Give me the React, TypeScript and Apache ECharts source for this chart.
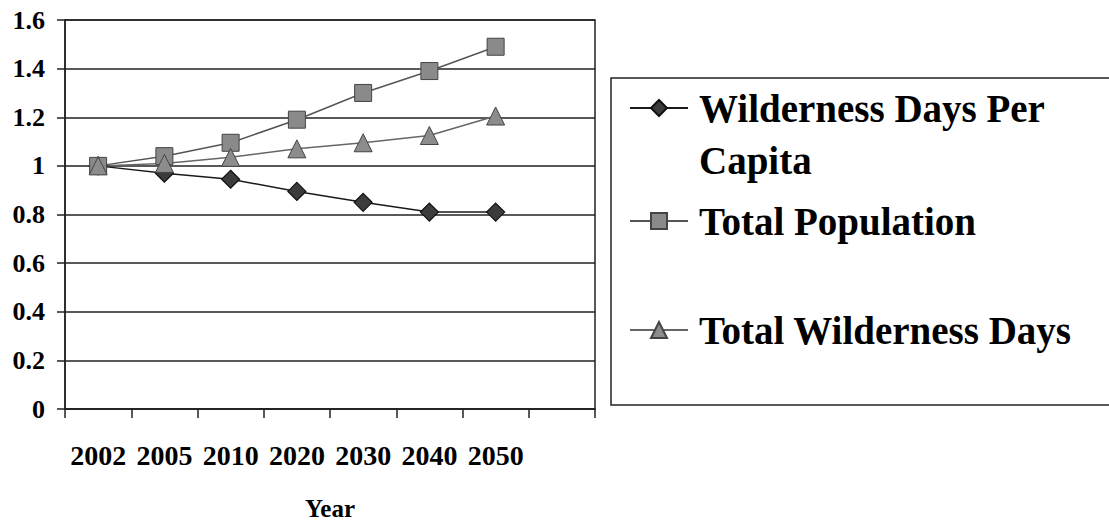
import React, { useEffect, useRef } from "react";
import * as echarts from "echarts";

const years = ["2002", "2005", "2010", "2020", "2030", "2040", "2050", ""];
const perCapita = [1, 0.97, 0.945, 0.895, 0.85, 0.81, 0.81];
const population = [1, 1.04, 1.095, 1.19, 1.3, 1.39, 1.49];
const totalDays = [1, 1.01, 1.035, 1.07, 1.095, 1.125, 1.205];
const seriesNames = ["Wilderness Days Per Capita", "Total Population", "Total Wilderness Days"];

const FONT = "'Liberation Serif', 'Times New Roman', serif";

export default function App() {
  const ref = useRef<HTMLDivElement>(null);
  useEffect(() => {
    if (!ref.current) return;
    const chart = echarts.init(ref.current, undefined, { renderer: "svg" });
    const legendText = {
      fontFamily: FONT,
      fontWeight: "bold" as const,
      fontSize: 39,
      lineHeight: 52,
      color: "#000",
      padding: [0, 0, 0, 6],
    };
    chart.setOption({
      animation: false,
      backgroundColor: "#fff",
      grid: {
        left: 65,
        right: 514,
        top: 20,
        bottom: 112,
        show: true,
        borderColor: "#222",
        borderWidth: 1.5,
        backgroundColor: "transparent",
        containLabel: false,
        outerBoundsMode: "none",
      },
      xAxis: {
        type: "category",
        data: years,
        boundaryGap: true,
        name: "Year",
        nameLocation: "middle",
        nameGap: 89,
        nameTextStyle: { fontFamily: FONT, fontWeight: "bold", fontSize: 25, lineHeight: 20, color: "#000" },
        axisLine: { lineStyle: { color: "#222", width: 1.5 } },
        axisTick: { show: true, length: 9, lineStyle: { color: "#222", width: 1.5 } },
        axisLabel: {
          interval: 0,
          margin: 32,
          fontFamily: FONT,
          fontWeight: "bold",
          fontSize: 28,
          color: "#000",
        },
        splitLine: { show: false },
      },
      yAxis: {
        type: "value",
        min: 0,
        max: 1.6,
        interval: 0.2,
        axisLine: { show: true, lineStyle: { color: "#222", width: 1.5 } },
        axisTick: { show: true, length: 8, lineStyle: { color: "#222", width: 1.5 } },
        axisLabel: {
          margin: 20,
          fontFamily: FONT,
          fontWeight: "bold",
          fontSize: 26,
          color: "#000",
        },
        splitLine: { show: true, lineStyle: { color: "#222", width: 1.5 } },
      },
      legend: [
        {
          data: [seriesNames[0]],
          left: 629,
          top: 30,
          padding: 0,
          orient: "vertical",
          itemWidth: 58,
          itemHeight: 20,
          selectedMode: false,
          formatter: () => "\nWilderness Days Per\nCapita",
          textStyle: legendText,
        },
        {
          data: [seriesNames[1]],
          left: 629,
          top: 195,
          padding: 0,
          orient: "vertical",
          itemWidth: 58,
          itemHeight: 20,
          selectedMode: false,
          textStyle: legendText,
        },
        {
          data: [seriesNames[2]],
          left: 629,
          top: 304,
          padding: 0,
          orient: "vertical",
          itemWidth: 58,
          itemHeight: 20,
          selectedMode: false,
          textStyle: legendText,
        },
      ],
      graphic: [
        {
          type: "rect",
          z: -1,
          shape: { x: 611, y: 78, width: 620, height: 327 },
          style: { fill: "none", stroke: "#222", lineWidth: 1.5 },
        },
      ],
      series: [
        {
          name: seriesNames[0],
          type: "line",
          data: perCapita,
          symbol: "diamond",
          symbolSize: 18,
          lineStyle: { color: "#1a1a1a", width: 1.5 },
          itemStyle: { color: "#3c3c3c", borderColor: "#111", borderWidth: 1.2 },
        },
        {
          name: seriesNames[1],
          type: "line",
          data: population,
          symbol: "rect",
          symbolSize: 17,
          lineStyle: { color: "#555", width: 1.5 },
          itemStyle: { color: "#8a8a8a", borderColor: "#444", borderWidth: 1 },
        },
        {
          name: seriesNames[2],
          type: "line",
          data: totalDays,
          symbol: "triangle",
          symbolSize: 18,
          lineStyle: { color: "#666", width: 1.5 },
          itemStyle: { color: "#8c8c8c", borderColor: "#444", borderWidth: 1 },
        },
      ],
    });
    return () => chart.dispose();
  }, []);
  return (
    <div
      ref={ref}
      style={{ position: "absolute", left: 0, top: 0, width: 1109, height: 521, background: "#fff" }}
    />
  );
}
